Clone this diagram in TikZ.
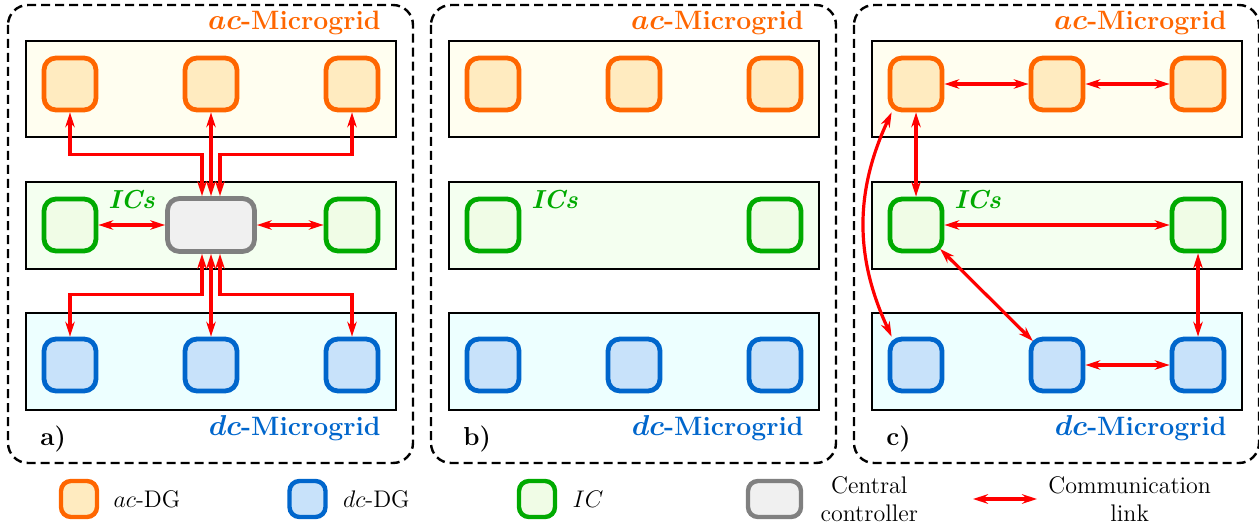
\documentclass[tikz,border=0pt]{standalone}
\usepackage{amsmath,amssymb}
\usetikzlibrary{arrows.meta,positioning,calc}
\definecolor{acorange}{HTML}{FF6600}
\definecolor{acfill}{HTML}{FFEBC0}
\definecolor{dcblue}{HTML}{0066CC}
\definecolor{dcfill}{HTML}{C8E2FA}
\definecolor{icgreen}{HTML}{00AA00}
\definecolor{icfill}{HTML}{F0FCE6}
\definecolor{ccgray}{HTML}{808080}
\definecolor{ccfill}{HTML}{F0F0F0}
\definecolor{aczone}{HTML}{FFFEF0}
\definecolor{iczone}{HTML}{F4FFF0}
\definecolor{dczone}{HTML}{EDFFFF}
\tikzset{
  panel/.style={draw,line width=1.2pt,dash pattern=on 4.5pt off 2.5pt,rounded corners=10pt},
  zona/.style={draw,line width=0.6pt},
  dgbox/.style={rounded corners=6pt,line width=2.4pt,minimum size=26pt,inner sep=0pt},
  acdg/.style={dgbox,draw=acorange,fill=acfill},
  dcdg/.style={dgbox,draw=dcblue,fill=dcfill},
  icn/.style={dgbox,draw=icgreen,fill=icfill},
  ccn/.style={dgbox,draw=ccgray,fill=ccfill,minimum width=43.5pt,minimum height=26.5pt},
  legdg/.style={rounded corners=5pt,line width=2.2pt,minimum size=18pt,inner sep=0pt},
  commlink/.style={{Stealth[length=7.5pt,width=4.8pt,inset=2.5pt]}-{Stealth[length=7.5pt,width=4.8pt,inset=2.5pt]},
               red,line width=1.6pt},
  gridlbl/.style={font=\fontsize{13.3}{16}\selectfont\bfseries,inner sep=0pt},
  iclbl/.style={font=\fontsize{13}{15}\selectfont\bfseries\itshape,inner sep=0pt,text=icgreen},
  tag/.style={font=\fontsize{13}{15}\selectfont\bfseries,inner sep=0pt},
  legtxt/.style={font=\large,inner sep=0pt,align=center},
}
\newcommand{\acmg}{$\boldsymbol{ac}$-Microgrid}
\newcommand{\dcmg}{$\boldsymbol{dc}$-Microgrid}
\begin{document}
\begin{tikzpicture}[x=0.5pt,y=-0.5pt]
  \useasboundingbox (0,0) rectangle (1259,524);
  % three panels
  \foreach \ox in {0,423,846}{
    \draw[panel] (\ox+8,5) rectangle (\ox+413,463);
    \draw[zona,fill=aczone] (\ox+26,41) rectangle (\ox+396,137);
    \draw[zona,fill=iczone] (\ox+26,182) rectangle (\ox+396,269);
    \draw[zona,fill=dczone] (\ox+26,313) rectangle (\ox+396,410);
  }
  \node[gridlbl,text=acorange,anchor=base east] (a-actit) at (381,30) {\acmg};
  \node[gridlbl,text=acorange,anchor=base east] (b-actit) at (804,30) {\acmg};
  \node[gridlbl,text=acorange,anchor=base east] (c-actit) at (1227,30) {\acmg};
  \node[gridlbl,text=dcblue,anchor=base east] (a-dctit) at (381,435) {\dcmg};
  \node[gridlbl,text=dcblue,anchor=base east] (b-dctit) at (804,435) {\dcmg};
  \node[gridlbl,text=dcblue,anchor=base east] (c-dctit) at (1227,435) {\dcmg};
  \node[iclbl,anchor=base west] (a-ictit) at (108,208) {ICs};
  \node[iclbl,anchor=base west] (b-ictit) at (531,208) {ICs};
  \node[iclbl,anchor=base west] (c-ictit) at (954,208) {ICs};
  \node[tag,anchor=base west] (a-tag) at (40,445) {a)};
  \node[tag,anchor=base west] (b-tag) at (463,445) {b)};
  \node[tag,anchor=base west] (c-tag) at (886,445) {c)};
  \foreach \ox/\pn in {0/a,423/b,846/c}{
    \node[acdg] (\pn-ac1) at (\ox+70,84) {};
    \node[acdg] (\pn-ac2) at (\ox+211,84) {};
    \node[acdg] (\pn-ac3) at (\ox+352,84) {};
    \node[dcdg] (\pn-dc1) at (\ox+70,365) {};
    \node[dcdg] (\pn-dc2) at (\ox+211,365) {};
    \node[dcdg] (\pn-dc3) at (\ox+352,365) {};
    \node[icn] (\pn-ic1) at (\ox+70,225) {};
    \node[icn] (\pn-ic3) at (\ox+352,225) {};
  }
  % a) central controller
  \node[ccn] (a-cc) at (211,225) {};
  \draw[commlink] (a-ac1.south) -- ++(0,42) -| ([xshift=-4.5pt]a-cc.north);
  \draw[commlink] (a-ac2.south) -- (a-cc.north);
  \draw[commlink] (a-ac3.south) -- ++(0,42) -| ([xshift=4.5pt]a-cc.north);
  \draw[commlink] (a-dc1.north) -- ++(0,-42) -| ([xshift=-4.5pt]a-cc.south);
  \draw[commlink] (a-dc2.north) -- (a-cc.south);
  \draw[commlink] (a-dc3.north) -- ++(0,-42) -| ([xshift=4.5pt]a-cc.south);
  \draw[commlink] (a-ic1) -- (a-cc); \draw[commlink] (a-cc) -- (a-ic3);
  % c) distributed
  \draw[commlink] (c-ac1) -- (c-ac2); \draw[commlink] (c-ac2) -- (c-ac3);
  \draw[commlink] (c-ac1) -- (c-ic1); \draw[commlink] (c-ic1) -- (c-ic3);
  \draw[commlink] (c-ic3) -- (c-dc3); \draw[commlink] (c-dc2) -- (c-dc3);
  \draw[commlink,shorten <=-3pt,shorten >=-3pt] (c-ic1) -- (c-dc2);
  \draw[commlink] ([xshift=2pt]c-ac1.south west) to[bend right=25] ([xshift=2pt]c-dc1.north west);
  % legend
  \node[legdg,draw=acorange,fill=acfill] (lac) at (79,499) {};
  \node[legtxt,right=7pt of lac] (lactxt) {$ac$-DG};
  \node[legdg,draw=dcblue,fill=dcfill] (ldc) at (307.5,499) {};
  \node[legtxt,right=7.5pt of ldc] (ldctxt) {$dc$-DG};
  \node[legdg,draw=icgreen,fill=icfill] (lic) at (537,499) {};
  \node[legtxt,right=7.5pt of lic] (lictxt) {$IC$};
  \node[legdg,draw=ccgray,fill=ccfill,minimum width=26.5pt] (lcc) at (774.5,499) {};
  \node[legtxt,right=8.5pt of lcc] (lcctxt) {Central\\controller};
  \coordinate (lk1) at (973,499); \coordinate (lk2) at (1037,499);
  \draw[commlink] (lk1) -- (lk2);
  \node[legtxt,right=5.5pt of lk2] (lktxt) {Communication\\link};
\end{tikzpicture}
\end{document}
